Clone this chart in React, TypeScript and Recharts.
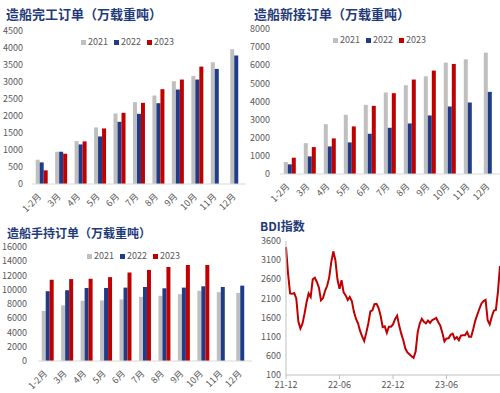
import React from "react";
import { BarChart, Bar, XAxis, YAxis, LineChart, Line } from "recharts";

const MONTHS = ["1-2月", "3月", "4月", "5月", "6月", "7月", "8月", "9月", "10月", "11月", "12月"];

// 造船完工
const done2021 = [714, 949, 1262, 1663, 2074, 2407, 2602, 3023, 3179, 3580, 3962];
const done2022 = [636, 949, 1164, 1399, 1829, 2064, 2377, 2778, 3072, 3385, 3776];
const done2023 = [401, 890, 1252, 1634, 2093, 2387, 2788, 3072, 3453, null, null];

// 造船新接
const newOrd2021 = [660, 1706, 2752, 3266, 3817, 4495, 4899, 5394, 6147, 6330, 6697];
const newOrd2022 = [532, 972, 1523, 1743, 2220, 2550, 2789, 3229, 3725, 3945, 4532];
const newOrd2023 = [899, 1486, 1963, 2624, 3761, 4459, 5211, 5706, 6073, null, null];

// 造船手持
const hold2021 = [7034, 7816, 8460, 8506, 8644, 9011, 9149, 9379, 9839, 9655, 9563];
const hold2022 = [9793, 9931, 10253, 10253, 10299, 10391, 10207, 10299, 10483, 10391, 10575];
const hold2023 = [11402, 11494, 11540, 11770, 12414, 12782, 13195, 13471, 13471, null, null];

// BDI, weekly, 2021-12 .. 2023-11
const bdi = [
  3440, 2750, 2230, 2220, 2240, 2100, 1500, 1315, 1440, 1700, 2000, 2230, 2140, 2600, 2640,
  2530, 2380, 2050, 2110, 2300, 2430, 2650, 3050, 3330, 3100, 2600, 2350, 2575, 2260, 2180,
  2060, 2140, 2030, 1750, 1570, 1450, 1250, 1110, 990, 1200, 1445, 1760, 1790, 1950, 1960,
  1850, 1640, 1350, 1370, 1200, 1360, 1360, 1420, 1560, 1650, 1390, 1180, 1010, 790, 690,
  640, 590, 550, 710, 1220, 1445, 1570, 1490, 1450, 1520, 1460, 1530, 1560, 1590, 1480,
  1390, 1200, 980, 1055, 1060, 1150, 1180, 1040, 1090, 1010, 1130, 1140, 1140, 1220, 1100,
  1100, 1300, 1520, 1680, 1830, 1970, 2030, 2060, 1530, 1420, 1620, 1780, 1800, 2270, 2950,
];
const bdiTickPos = [0, 26, 52, 78];
const bdiTickLabels = ["21-12", "22-06", "22-12", "23-06"];

const YEARS = ["2021", "2022", "2023"];
const COLORS = ["#BFBFBF", "#1F3C88", "#C00000"];
const FONT = "'Noto Sans CJK SC', 'Noto Sans', sans-serif";
const TICK = { fontSize: 9, fill: "#595959", fontFamily: FONT };
const TITLE_COLOR = "#1F3A78";

const toRows = (a: (number | null)[], b: (number | null)[], c: (number | null)[]) =>
  MONTHS.map((m, i) => ({ m, y2021: a[i], y2022: b[i], y2023: c[i] }));

const bdiRows = bdi.map((v, i) => ({ i, v }));

const RotTick = (props: any) => {
  const { x, y, payload } = props;
  const tx = x - 2;
  return (
    <text
      x={tx}
      y={y}
      transform={`rotate(-45 ${tx} ${y})`}
      textAnchor="end"
      dy="0.35em"
      fontSize={9}
      fill="#595959"
      fontFamily={FONT}
    >
      {payload.value}
    </text>
  );
};

function Legend({ left, top }: { left: number; top: number }) {
  return (
    <div style={{ position: "absolute", left, top, display: "flex", alignItems: "center", fontSize: 9, color: "#595959", lineHeight: "10px" }}>
      {YEARS.map((y, i) => (
        <div key={y} style={{ display: "flex", alignItems: "center", marginRight: 6 }}>
          <span style={{ width: 5, height: 5, background: COLORS[i], marginRight: 2, display: "inline-block" }} />
          <span>{y}</span>
        </div>
      ))}
    </div>
  );
}

function Title({ text, left, top, size }: { text: string; left: number; top: number; size: number }) {
  return (
    <div style={{ position: "absolute", left, top, fontSize: size, fontWeight: 700, color: TITLE_COLOR, whiteSpace: "nowrap", lineHeight: 1 }}>
      {text}
    </div>
  );
}

function Bars({ rows, left, top, width, height, marginTop, yWidth, yMargin, max, step }: any) {
  const ticks: number[] = [];
  for (let t = 0; t <= max; t += step) ticks.push(t);
  return (
    <div style={{ position: "absolute", left, top }}>
      <BarChart
        width={width}
        height={height}
        data={rows}
        margin={{ top: marginTop, right: 0, bottom: 0, left: 0 }}
        barGap={0}
        barCategoryGap="19%"
      >
        <XAxis
          dataKey="m"
          interval={0}
          tickLine={false}
          tickSize={0}
          tickMargin={11}
          axisLine={{ stroke: "#D9D9D9" }}
          tick={<RotTick />}
          height={35}
        />
        <YAxis
          width={yWidth}
          domain={[0, max]}
          ticks={ticks}
          axisLine={false}
          tickLine={false}
          tickSize={0}
          tickMargin={yMargin}
          tick={TICK}
          interval={0}
        />
        <Bar dataKey="y2021" fill={COLORS[0]} isAnimationActive={false} />
        <Bar dataKey="y2022" fill={COLORS[1]} isAnimationActive={false} />
        <Bar dataKey="y2023" fill={COLORS[2]} isAnimationActive={false} />
      </BarChart>
    </div>
  );
}

export default function App() {
  const bdiYTicks = [100, 600, 1100, 1600, 2100, 2600, 3100, 3600];
  return (
    <div style={{ position: "absolute", left: 0, top: 0, width: 500, height: 393, background: "#fff", overflow: "hidden", fontFamily: FONT }}>
      <Bars rows={toRows(done2021, done2022, done2023)} left={0} top={25} width={246} height={194} marginTop={6} yWidth={32} yMargin={9} max={4500} step={500} />
      <Bars rows={toRows(newOrd2021, newOrd2022, newOrd2023)} left={250} top={22} width={250} height={187} marginTop={7} yWidth={30} yMargin={10} max={8000} step={1000} />
      <Bars rows={toRows(hold2021, hold2022, hold2023)} left={0} top={240} width={252} height={156} marginTop={7} yWidth={38} yMargin={11} max={16000} step={2000} />

      <div style={{ position: "absolute", left: 250, top: 235 }}>
        <LineChart width={250} height={160} data={bdiRows} margin={{ top: 6, right: 0, bottom: 0, left: 0 }}>
          <XAxis
            dataKey="i"
            type="number"
            domain={[0, 104]}
            ticks={bdiTickPos}
            tickFormatter={(v: number) => bdiTickLabels[bdiTickPos.indexOf(v)] ?? ""}
            axisLine={{ stroke: "#BFBFBF" }}
            tickLine={{ stroke: "#BFBFBF" }}
            tickSize={4}
            tickMargin={3}
            tick={TICK}
            height={20}
            interval={0}
          />
          <YAxis
            width={36}
            domain={[100, 3600]}
            ticks={bdiYTicks}
            axisLine={{ stroke: "#BFBFBF" }}
            tickLine={false}
            tickSize={0}
            tickMargin={5}
            tick={TICK}
            interval={0}
          />
          <Line type="linear" dataKey="v" stroke="#C00000" strokeWidth={2} dot={false} isAnimationActive={false} />
        </LineChart>
      </div>

      <Title text="造船完工订单（万载重吨）" left={6} top={7} size={13} />
      <Title text="造船新接订单（万载重吨）" left={254} top={7} size={13} />
      <Title text="造船手持订单（万载重吨）" left={7} top={227} size={12} />
      <Title text="BDI指数" left={260} top={220} size={12} />

      <Legend left={81} top={37} />
      <Legend left={333} top={35} />
      <Legend left={87} top={251} />
    </div>
  );
}
